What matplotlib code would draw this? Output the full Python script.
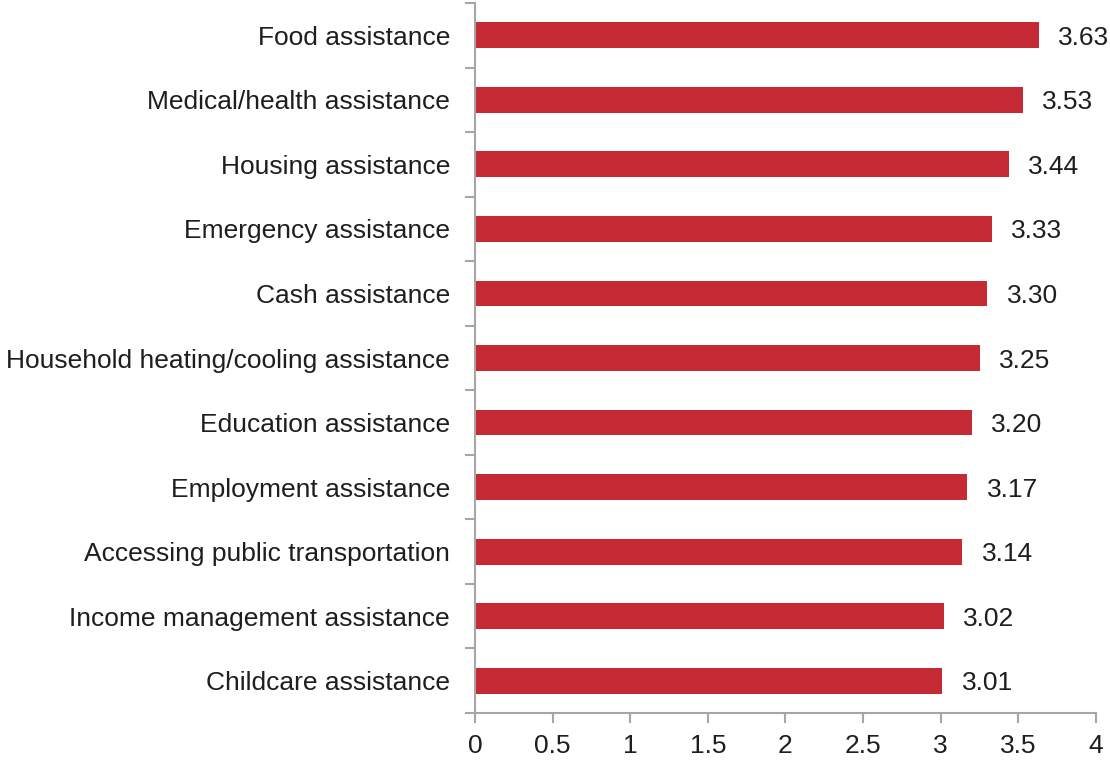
import matplotlib
matplotlib.use("Agg")
import matplotlib.pyplot as plt
import numpy as np
from matplotlib.ticker import FixedLocator

plt.rcParams['font.family'] = ['Liberation Sans', 'DejaVu Sans']

categories = [
    "Food assistance",
    "Medical/health assistance",
    "Housing assistance",
    "Emergency assistance",
    "Cash assistance",
    "Household heating/cooling assistance",
    "Education assistance",
    "Employment assistance",
    "Accessing public transportation",
    "Income management assistance",
    "Childcare assistance",
]
values = [3.63, 3.53, 3.44, 3.33, 3.30, 3.25, 3.20, 3.17, 3.14, 3.02, 3.01]
x_ticks = [0, 0.5, 1, 1.5, 2, 2.5, 3, 3.5, 4]
x_tick_labels = ["0", "0.5", "1", "1.5", "2", "2.5", "3", "3.5", "4"]

bar_color = "#C62B35"
axis_color = "#A6A6A6"
text_color = "#1E1E1E"

fig = plt.figure(figsize=(11.10, 7.61), dpi=100)
ax = fig.add_axes([0.4279, 0.0631, 0.9874 - 0.4279, 0.996 - 0.0631])

n = len(categories)
ypos = np.arange(n)[::-1]
ax.barh(ypos, values, height=0.4, color=bar_color, zorder=2)

for y, v in zip(ypos, values):
    ax.text(v + 0.125, y, f"{v:.2f}", va="center_baseline", ha="left",
            fontsize=19, color=text_color, clip_on=False)

ax.set_xlim(0, 4)
ax.set_ylim(-0.5, n - 0.5)

ax.set_xticks(x_ticks)
ax.set_xticklabels(x_tick_labels, fontsize=19, color=text_color)
ax.set_yticks(ypos)
ax.set_yticklabels(categories, fontsize=19, color=text_color)

# category separators on the value axis
ax.yaxis.set_minor_locator(FixedLocator(np.arange(-0.5, n, 1.0)))
ax.tick_params(axis="y", which="major", length=0, pad=18)
ax.tick_params(axis="y", which="minor", length=7, width=1.5, color=axis_color, direction="out")
ax.tick_params(axis="x", which="major", length=7, width=1.5, color=axis_color, direction="out", pad=8)

for side in ("top", "right"):
    ax.spines[side].set_visible(False)
for side in ("left", "bottom"):
    ax.spines[side].set_color(axis_color)
    ax.spines[side].set_linewidth(1.5)

fig.savefig("out.png", dpi=100)
